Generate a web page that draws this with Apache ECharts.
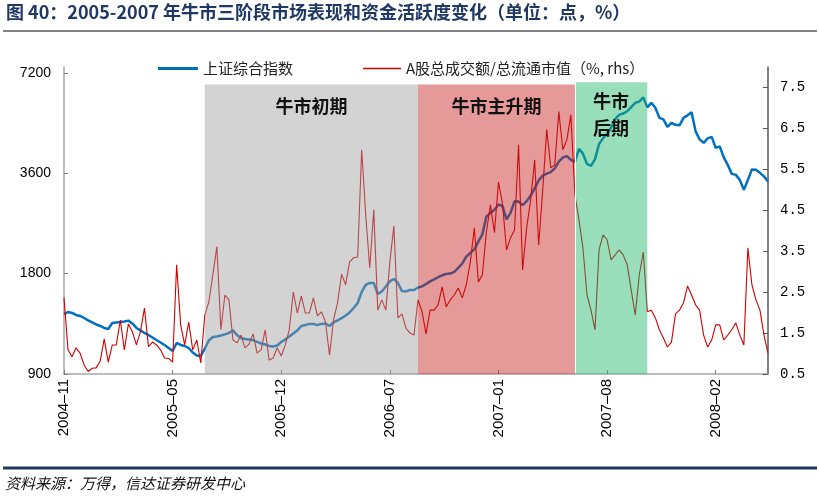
<!DOCTYPE html>
<html>
<head>
<meta charset="utf-8">
<script src="https://cdn.jsdelivr.net/npm/echarts@6/dist/echarts.min.js"></script>
<style>
html, body { margin: 0; padding: 0; background: #fff; }
#main { width: 819px; height: 499px; }
</style>
</head>
<body>
<div id="main"></div>
<script>
// 周度采样（约每5个交易日一个点）
var dates = [
  '2004-11-01','2004-11-08','2004-11-15','2004-11-22','2004-11-29','2004-12-06','2004-12-13','2004-12-20','2004-12-27',
  '2005-01-04','2005-01-11','2005-01-18','2005-01-25','2005-02-01','2005-02-17','2005-02-24',
  '2005-03-03','2005-03-10','2005-03-17','2005-03-24','2005-03-31','2005-04-07','2005-04-14','2005-04-21','2005-04-28',
  '2005-05-12','2005-05-19','2005-05-26','2005-06-02','2005-06-09','2005-06-16','2005-06-23','2005-06-30',
  '2005-07-07','2005-07-14','2005-07-21','2005-07-28','2005-08-04','2005-08-11','2005-08-18','2005-08-25',
  '2005-09-01','2005-09-08','2005-09-15','2005-09-22','2005-09-29','2005-10-13','2005-10-20','2005-10-27',
  '2005-11-03','2005-11-10','2005-11-17','2005-11-24','2005-12-01','2005-12-08','2005-12-15','2005-12-22','2005-12-29',
  '2006-01-09','2006-01-16','2006-01-23','2006-02-09','2006-02-16','2006-02-23',
  '2006-03-02','2006-03-09','2006-03-16','2006-03-23','2006-03-30','2006-04-06','2006-04-13','2006-04-20','2006-04-27',
  '2006-05-11','2006-05-18','2006-05-25','2006-05-31','2006-06-08','2006-06-15','2006-06-22','2006-06-29',
  '2006-07-06','2006-07-13','2006-07-20','2006-07-27','2006-08-03','2006-08-10','2006-08-17','2006-08-24','2006-08-31',
  '2006-09-07','2006-09-14','2006-09-21','2006-09-28','2006-10-12','2006-10-19','2006-10-26',
  '2006-11-02','2006-11-09','2006-11-16','2006-11-23','2006-11-30','2006-12-07','2006-12-14','2006-12-21','2006-12-28',
  '2007-01-08','2007-01-15','2007-01-22','2007-01-29','2007-02-05','2007-02-12','2007-02-28',
  '2007-03-07','2007-03-14','2007-03-21','2007-03-28','2007-04-04','2007-04-11','2007-04-18','2007-04-25','2007-04-30',
  '2007-05-14','2007-05-21','2007-05-28','2007-06-04','2007-06-11','2007-06-18','2007-06-25',
  '2007-07-02','2007-07-09','2007-07-16','2007-07-23','2007-07-30','2007-08-06','2007-08-13','2007-08-20','2007-08-27',
  '2007-09-03','2007-09-10','2007-09-17','2007-09-24','2007-10-08','2007-10-15','2007-10-22','2007-10-29',
  '2007-11-05','2007-11-12','2007-11-19','2007-11-26','2007-12-03','2007-12-10','2007-12-17','2007-12-24','2007-12-28',
  '2008-01-04','2008-01-11','2008-01-18','2008-01-25','2008-02-01','2008-02-15','2008-02-22','2008-02-29',
  '2008-03-07','2008-03-14','2008-03-21','2008-03-28','2008-04-03','2008-04-10','2008-04-17','2008-04-24','2008-04-30',
  '2008-05-08','2008-05-15','2008-05-22','2008-05-29'
];

// 上证综合指数（点）
var shIndex = [
  1362, 1381, 1372, 1353, 1344, 1325, 1303, 1285, 1267, 1254,
  1237, 1228, 1280, 1285, 1289, 1294, 1301, 1276, 1237, 1216,
  1195, 1178, 1158, 1138, 1119, 1100, 1077, 1055, 1115, 1100,
  1092, 1077, 1044, 1023, 1019, 1073, 1134, 1162, 1166, 1174,
  1183, 1195, 1216, 1178, 1154, 1146, 1142, 1138, 1123, 1111,
  1103, 1092, 1088, 1096, 1123, 1142, 1166, 1191, 1216, 1254,
  1263, 1272, 1272, 1263, 1272, 1276, 1254, 1285, 1303, 1323,
  1348, 1377, 1420, 1470, 1586, 1665, 1688, 1688, 1564, 1592,
  1648, 1706, 1735, 1688, 1597, 1592, 1608, 1608, 1636, 1648,
  1676, 1706, 1729, 1756, 1780, 1796, 1801, 1821, 1872, 1931,
  2024, 2077, 2128, 2246, 2363, 2669, 2738, 2796, 2904, 2868,
  2618, 2738, 2965, 2961, 2888, 2969, 3086, 3243, 3428, 3541,
  3593, 3628, 3724, 3901, 4013, 4052, 3949, 3895, 4261, 4122,
  3842, 3789, 3969, 4402, 4588, 4730, 4933, 5232, 5386, 5438,
  5525, 5688, 5856, 5908, 6082, 5676, 5856, 5657, 5279, 5225,
  4961, 5100, 5030, 5012, 5279, 5371, 5484, 4809, 4550, 4441,
  4582, 4629, 4290, 4335, 4018, 3815, 3585, 3560, 3440, 3210,
  3440, 3698, 3686, 3610, 3524, 3399
];

// A股总成交额/总流通市值（%）
var turnover = [
  2.36, 1.09, 0.92, 1.14, 1.01, 0.72, 0.56, 0.64, 0.65, 0.82,
  1.36, 0.79, 1.21, 1.21, 1.82, 1.09, 1.72, 1.53, 1.21, 1.53,
  2.11, 1.17, 1.28, 1.21, 1.09, 0.89, 0.88, 0.79, 3.17, 1.70,
  1.21, 1.77, 1.09, 1.33, 0.77, 1.94, 2.26, 2.92, 3.61, 1.58,
  2.43, 2.31, 1.33, 1.26, 1.45, 1.14, 1.23, 1.48, 1.01, 1.09,
  1.58, 0.84, 0.89, 1.14, 0.94, 1.21, 1.58, 2.50, 1.99, 2.41,
  1.99, 1.99, 2.36, 1.92, 2.02, 1.77, 0.96, 1.82, 2.24, 2.94,
  2.68, 3.24, 3.34, 3.36, 5.98, 4.39, 3.09, 4.51, 2.06, 2.31,
  2.06, 3.24, 4.12, 1.87, 1.97, 1.62, 1.50, 1.45, 2.31, 2.02,
  1.48, 2.06, 2.06, 2.19, 2.63, 2.14, 2.31, 2.43, 2.60, 2.36,
  2.68, 3.24, 4.07, 2.75, 2.92, 3.97, 4.63, 3.95, 5.19, 4.66,
  3.53, 3.83, 4.02, 6.10, 3.04, 4.07, 4.75, 5.73, 3.65, 5.00,
  6.47, 5.54, 5.61, 6.91, 5.98, 6.22, 6.83, 4.88, 4.27, 3.58,
  2.43, 2.06, 1.58, 3.53, 3.90, 3.78, 3.29, 3.41, 3.53, 3.41,
  3.17, 2.55, 1.94, 2.92, 3.48, 2.02, 2.06, 1.87, 1.58, 1.38,
  1.16, 1.28, 1.97, 2.06, 2.24, 2.65, 2.43, 2.19, 2.06, 1.45,
  1.16, 1.33, 1.70, 1.70, 1.33, 1.45, 1.58, 1.75, 1.45, 1.21,
  3.58, 2.68, 2.31, 2.06, 1.45, 1.01
];

var leftTicks = [900, 1800, 3600, 7200];
var rightTicks = [0.5, 1.5, 2.5, 3.5, 4.5, 5.5, 6.5, 7.5];

// 牛市三阶段
var phaseNames = ['牛市初期', '牛市主升期', '牛市\n后期'];
var phaseStart = ['2005-07-21', '2006-08-24', '2007-06-18'];
var phaseEnd = ['2006-08-24', '2007-06-18', '2007-10-29'];

var phaseFill = ['rgba(157,157,157,0.45)', 'rgba(197,28,28,0.45)', 'rgba(31,184,104,0.45)'];
var phaseTop = [7.57, 7.57, 7.63];
var phaseDist = [8, 8, 6];

var myChart = echarts.init(document.getElementById('main'));

var areas = phaseNames.map(function (n, k) {
    return [
        {
            name: n,
            xAxis: phaseStart[k],
            yAxis: 0.5,
            itemStyle: { color: phaseFill[k] },
            label: { distance: phaseDist[k] }
        },
        { xAxis: phaseEnd[k], yAxis: phaseTop[k] }
    ];
});

// 每27个点一个刻度标签
function showTick(idx) {
    return idx % 27 === 0;
}

var option = {
    animation: false,
    backgroundColor: '#fff',
    title: {
        text: '图 40：2005-2007 年牛市三阶段市场表现和资金活跃度变化（单位：点，%）',
        left: 6,
        top: 3,
        padding: 0,
        textStyle: {
            fontSize: 18,
            fontWeight: 'bold',
            color: '#1f3864',
            fontFamily: '"Noto Sans CJK SC", sans-serif'
        }
    },
    legend: [
        {
            data: ['上证综合指数'],
            left: 158,
            top: 61,
            padding: 0,
            icon: 'rect',
            itemWidth: 40,
            itemHeight: 3,
            textStyle: { fontSize: 15, color: '#222', fontFamily: '"Noto Sans CJK SC", sans-serif' }
        },
        {
            data: ['A股总成交额/总流通市值（%, rhs）'],
            left: 363,
            top: 61,
            padding: 0,
            icon: 'rect',
            itemWidth: 38,
            itemHeight: 1.5,
            textStyle: { fontSize: 15, color: '#222', fontFamily: '"Noto Sans CJK SC", sans-serif' }
        }
    ],
    grid: { left: 64, right: 51, top: 67, bottom: 125 },
    xAxis: {
        type: 'category',
        data: dates,
        boundaryGap: false,
        axisLine: { lineStyle: { color: '#a6a6a6', width: 1.5 } },
        axisTick: { inside: true, interval: showTick, length: 4, lineStyle: { color: '#7f7f7f' } },
        axisLabel: {
            interval: showTick,
            rotate: 90,
            margin: 5,
            fontSize: 15,
            color: '#000',
            fontFamily: '"Liberation Sans", Arial, sans-serif',
            formatter: function (v) { return v.slice(0, 4) + '–' + v.slice(5, 7); }
        },
        splitLine: { show: false }
    },
    yAxis: [
        {
            type: 'log',
            logBase: 2,
            min: 900,
            max: 7500,
            position: 'left',
            axisLine: { show: true, lineStyle: { color: '#a6a6a6', width: 1.5 } },
            axisTick: { show: true, inside: true, length: 4, customValues: leftTicks, lineStyle: { color: '#7f7f7f' } },
            axisLabel: {
                customValues: leftTicks,
                margin: 13,
                fontSize: 14,
                color: '#000',
                fontFamily: '"Liberation Sans", Arial, sans-serif',
                formatter: function (v) { return String(Math.round(v)); }
            },
            splitLine: { show: false }
        },
        {
            type: 'value',
            min: 0.5,
            max: 8,
            position: 'right',
            axisLine: { show: true, lineStyle: { color: '#595959', width: 1.5 } },
            axisTick: { show: true, inside: true, length: 5, customValues: rightTicks, lineStyle: { color: '#595959' } },
            axisLabel: {
                customValues: rightTicks,
                margin: 12,
                fontSize: 14,
                color: '#000',
                fontFamily: '"Liberation Mono", monospace',
                formatter: function (v) { return v.toFixed(1); }
            },
            splitLine: { show: false }
        }
    ],
    series: [
        {
            name: '上证综合指数',
            type: 'line',
            yAxisIndex: 0,
            data: shIndex,
            showSymbol: false,
            symbol: 'none',
            lineStyle: { color: '#0070c0', width: 2.5 },
            itemStyle: { color: '#0070c0' },
            z: 2
        },
        {
            name: 'A股总成交额/总流通市值（%, rhs）',
            type: 'line',
            yAxisIndex: 1,
            data: turnover,
            showSymbol: false,
            symbol: 'none',
            lineStyle: { color: '#d00000', width: 1.1 },
            itemStyle: { color: '#d00000' },
            z: 3
        },
        {
            // 阶段底色，盖在曲线上方
            type: 'line',
            yAxisIndex: 1,
            data: [],
            z: 5,
            markArea: {
                silent: true,
                z: 5,
                label: {
                    show: true,
                    position: 'insideTop',
                    fontSize: 18,
                    lineHeight: 27,
                    fontWeight: 'bold',
                    color: '#111',
                    fontFamily: '"Noto Sans CJK SC", sans-serif'
                },
                data: areas
            },
            markLine: {
                silent: true,
                z: 6,
                symbol: 'none',
                label: { show: false },
                lineStyle: { color: '#fff', width: 1, type: 'solid' },
                data: [[
                    { coord: [phaseStart[2], 0.52] },
                    { coord: [phaseStart[2], phaseTop[2]] }
                ]]
            }
        }
    ],
    graphic: [
        {
            type: 'line',
            shape: { x1: 3, y1: 31, x2: 817, y2: 31 },
            style: { stroke: '#595959', lineWidth: 1.5 }
        },
        {
            type: 'line',
            shape: { x1: 3, y1: 468, x2: 817, y2: 468 },
            style: { stroke: '#1f3864', lineWidth: 3 }
        },
        {
            type: 'text',
            left: 5,
            top: 476,
            style: {
                text: '资料来源：万得，信达证券研发中心',
                fill: '#111',
                font: 'italic 15px "Noto Sans CJK SC", sans-serif'
            }
        }
    ]
};

myChart.setOption(option);
</script>
</body>
</html>
